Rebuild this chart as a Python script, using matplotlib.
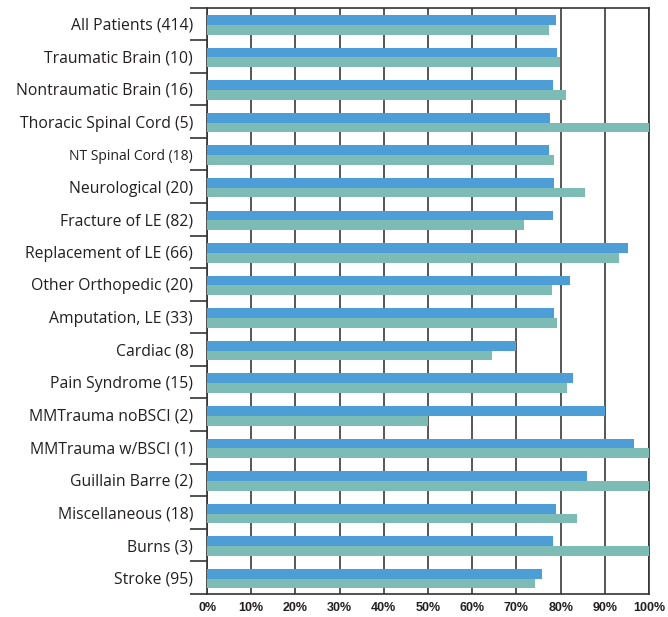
import matplotlib
matplotlib.use("Agg")
import matplotlib.pyplot as plt
import numpy as np

categories = [
    "All Patients (414)", "Traumatic Brain (10)", "Nontraumatic Brain (16)",
    "Thoracic Spinal Cord (5)", "NT Spinal Cord (18)", "Neurological (20)",
    "Fracture of LE (82)", "Replacement of LE (66)", "Other Orthopedic (20)",
    "Amputation, LE (33)", "Cardiac (8)", "Pain Syndrome (15)",
    "MMTrauma noBSCI (2)", "MMTrauma w/BSCI (1)", "Guillain Barre (2)",
    "Miscellaneous (18)", "Burns (3)", "Stroke (95)",
]
series_blue = [78.9, 79.1, 78.2, 77.5, 77.3, 78.4, 78.2, 95.2, 82.1, 78.4,
               69.9, 82.8, 90.0, 96.7, 85.9, 78.9, 78.2, 75.7]
series_teal = [77.3, 79.8, 81.2, 100.0, 78.4, 85.6, 71.7, 93.1, 78.0, 79.1,
               64.4, 81.4, 50.0, 100.0, 100.0, 83.6, 100.0, 74.1]
xticks = [0, 10, 20, 30, 40, 50, 60, 70, 80, 90, 100]
xticklabels = [f"{v}%" for v in xticks]

fig = plt.figure(figsize=(6.68, 6.17), dpi=100)
ax = fig.add_axes([0.31, 0.0373, 0.9716 - 0.31, 0.9878 - 0.0373])

y = np.arange(len(categories))
h = 0.30
ax.barh(y - h / 2 + 0.03, series_blue, height=h, color="#4d9ed6", zorder=3)
ax.barh(y + h / 2 + 0.03, series_teal, height=h, color="#7dbcb5", zorder=3)

ax.set_xlim(0, 100)
ax.set_ylim(len(categories) - 0.5, -0.5)

ax.set_xticks(xticks)
ax.set_xticklabels(xticklabels, fontfamily="Liberation Sans", fontweight="bold",
                   fontsize=9, color="#231f20")
ax.tick_params(axis="x", length=0, pad=6)
ax.xaxis.grid(True, color="#3a3a3a", linewidth=1.2, zorder=0)

ax.set_yticks(y)
ax.set_yticklabels(categories, fontfamily="Open Sans", fontsize=11.3, color="#231f20")
for lbl in ax.get_yticklabels():
    if lbl.get_text().startswith("NT Spinal"):
        lbl.set_fontsize(10)
ax.tick_params(axis="y", length=0, pad=10)
ax.set_yticks(np.arange(-0.5, len(categories), 1.0), minor=True)
ax.tick_params(axis="y", which="minor", length=12, width=1.2, color="#333333")

for s in ["left", "bottom", "top", "right"]:
    ax.spines[s].set_color("#333333")
    ax.spines[s].set_linewidth(1.2)

fig.savefig("out.png", dpi=100)
